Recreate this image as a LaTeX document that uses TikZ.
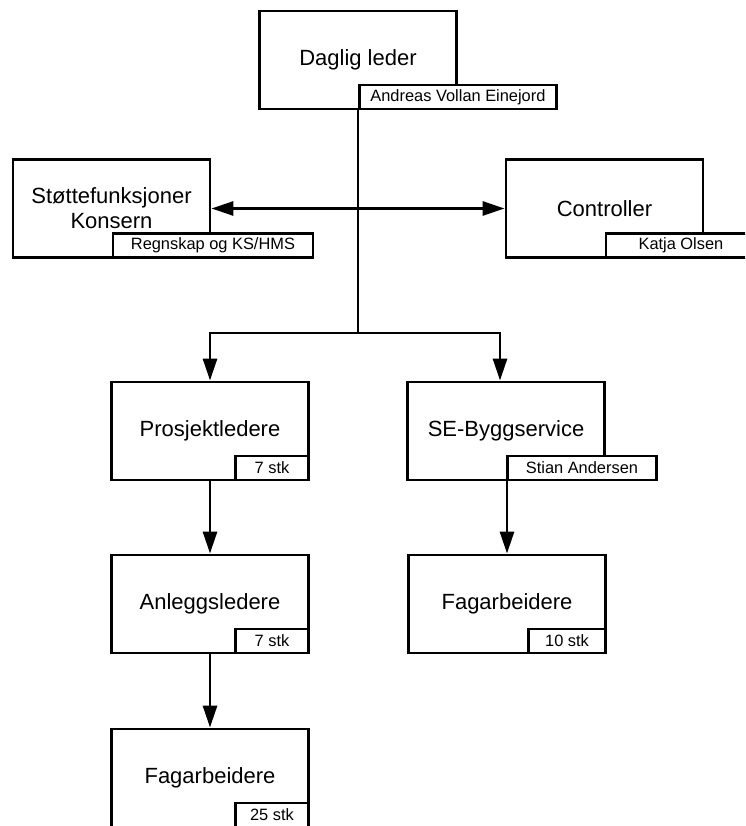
\documentclass[tikz,border=0pt]{standalone}
\usepackage{fontspec}
\setmainfont{Liberation Sans}
\usetikzlibrary{arrows.meta}
\begin{document}
\begin{tikzpicture}[x=1pt,y=-1pt,
  unit/.style={draw, line width=2.9pt, fill=white, minimum width=197pt, minimum height=98pt,
    inner sep=0pt, align=center, font=\fontsize{22}{25}\selectfont},
  tag/.style={draw, line width=2.9pt, fill=white, minimum height=24pt, inner sep=0pt,
    font=\fontsize{16.4}{18}\selectfont},
  link/.style={line width=2.9pt},
  tip/.tip={Triangle[length=22pt,width=14pt]},
  arr/.style={link, -tip}]
\clip (0,0) rectangle (745,826);
\useasboundingbox (0,0) rectangle (745,826);

% units
\node[unit] (daglig)     at (358,60)      {Daglig leder};
\node[unit] (stotte)     at (111.5,208.5) {Støttefunksjoner\\Konsern};
\node[unit] (controller) at (604.5,208.5) {Controller};
\node[unit] (prosjekt)   at (210,431)     {Prosjektledere};
\node[unit] (se)         at (506,431)     {SE-Byggservice};
\node[unit] (anlegg)     at (210,604)     {Anleggsledere};
\node[unit] (fagR)       at (507,604)     {Fagarbeidere};
\node[unit] (fagL)       at (210,778)     {Fagarbeidere};

% name / headcount tags
\node[tag, anchor=south west, minimum width=197pt] (dagligTag) at (daglig.south) {Andreas Vollan Einejord};
\node[tag, anchor=south west, minimum width=200pt] (stotteTag) at (stotte.south) {Regnskap og KS/HMS};
\node[tag, anchor=south west, minimum width=150pt] (controllerTag) at (controller.south) {Katja Olsen};
\node[tag, anchor=south west, minimum width=149pt] (seTag) at (se.south) {Stian Andersen};
\node[tag, anchor=south east, minimum width=73pt] (prosjektTag) at (prosjekt.south east) {7 stk};
\node[tag, anchor=south east, minimum width=73pt] (anleggTag) at (anlegg.south east) {7 stk};
\node[tag, anchor=south east, minimum width=77pt] (fagRTag) at (fagR.south east) {10 stk};
\node[tag, anchor=south east, minimum width=73pt] (fagLTag) at (fagL.south east) {25 stk};

% connectors
\coordinate (split) at (358,333);
\coordinate (seIn) at ([xshift=-6pt]se.north);
\draw[link] (dagligTag.south west) -- (split);
\draw[arr] (split) -| (prosjekt.north);
\draw[arr] (split) -| (seIn);
\draw[link, tip-tip] (stotte.east) -- (controller.west);
\draw[arr] (prosjekt.south) -- (anlegg.north);
\draw[arr] (se.south -| fagR.north) -- (fagR.north);
\draw[arr] (anlegg.south) -- (fagL.north);
\end{tikzpicture}
\end{document}
